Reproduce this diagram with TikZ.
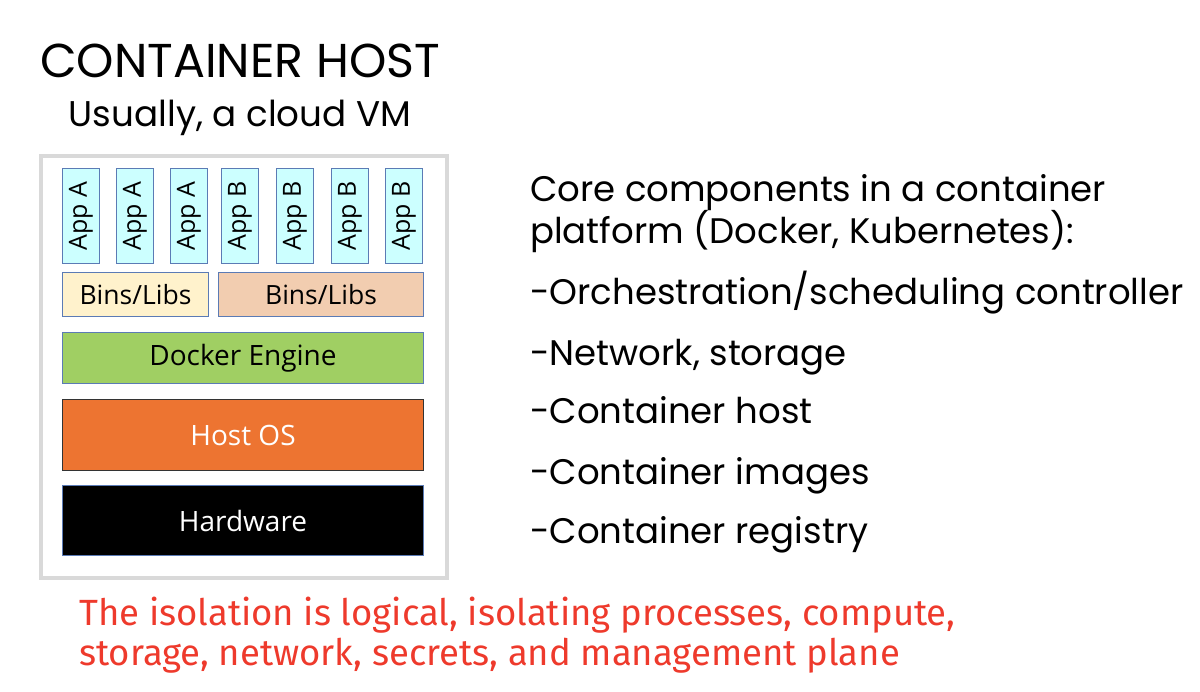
\documentclass[tikz,border=0pt]{standalone}
\usepackage{fontspec}
\setmainfont{Poppins}
\newfontfamily\boxfont{Open Sans}
\newfontfamily\notefont{Fira Sans}
\usepackage{xcolor}
\definecolor{appcyan}{HTML}{CCFFFF}
\definecolor{libyellow}{HTML}{FFF2CC}
\definecolor{libpeach}{HTML}{F2CDB0}
\definecolor{enginegreen}{HTML}{A0CF63}
\definecolor{hostorange}{HTML}{ED7431}
\definecolor{edgeblue}{HTML}{5B7BB5}
\definecolor{hostgray}{HTML}{D9D9D9}
\definecolor{notered}{HTML}{EE3A2C}

\begin{document}
\begin{tikzpicture}[x=1pt, y=-1pt,
		layer/.style = {draw = edgeblue, line width = 1pt, anchor = north west, inner sep = 0pt, font = \boxfont\fontsize{28}{32}\selectfont},
		app/.style = {layer, fill = appcyan, minimum width = 37pt, minimum height = 95pt, font = \boxfont\fontsize{25}{29}\selectfont},
		bullet/.style = {anchor = base west, inner sep = 0pt, font = \fontsize{35.5}{42}\selectfont},
		note/.style = {anchor = base west, inner sep = 0pt, text = notered, font = \notefont\fontsize{36.5}{42}\selectfont}]
		\useasboundingbox (0,0) rectangle (1200,692);
		
		%titles
		\node (title) [inner sep = 0pt, anchor = base, font = \fontsize{47.5}{54}\selectfont] at (240,78) {CONTAINER HOST};
		\node (subtitle) [inner sep = 0pt, anchor = base, font = \fontsize{35.7}{42}\selectfont] at (240,127) {Usually, a cloud VM};
		
		%container host frame
		\node (host) [draw = hostgray, line width = 4pt, anchor = north west, minimum width = 406pt, minimum height = 422pt] at (39,154) {};
		
		%apps
		\foreach \x/\name/\n in {62/A/1, 116/A/2, 170/A/3, 221/B/1, 276/B/2, 331/B/3, 385/B/4}
			\node (app\name\n) [app] at (\x,168) {\rotatebox{90}{App \name}};
		
		%stack layers
		\node (libsA) [layer, fill = libyellow, minimum width = 146pt, minimum height = 44pt, font = \boxfont\fontsize{26.5}{30}\selectfont] at (62,272) {Bins/Libs};
		\node (libsB) [layer, fill = libpeach, minimum width = 205pt, minimum height = 44pt, font = \boxfont\fontsize{26.5}{30}\selectfont] at (218,272) {Bins/Libs};
		\node (engine) [layer, fill = enginegreen, minimum width = 361pt, minimum height = 51pt] at (62,332) {Docker Engine};
		\node (hostos) [layer, draw = black!80, fill = hostorange, text = white, minimum width = 361pt, minimum height = 71pt] at (62,399) {Host OS};
		\node (hardware) [layer, fill = black, text = white, minimum width = 361pt, minimum height = 70pt] at (62,485) {Hardware};
		
		%core components
		\node (core1) [bullet] at (530,202) {Core components in a container};
		\node (core2) [bullet] at (530,244) {platform (Docker, Kubernetes):};
		\node (orch) [bullet] at (530,305) {-Orchestration/scheduling controller};
		\node (net) [bullet] at (530,366) {-Network, storage};
		\node (chost) [bullet] at (530,424) {-Container host};
		\node (images) [bullet] at (530,485) {-Container images};
		\node (registry) [bullet] at (530,543) {-Container registry};
		
		%isolation note
		\node (note1) [note] at (79,625) {The isolation is logical, isolating processes, compute,};
		\node (note2) [note] at (79,665) {storage, network, secrets, and management plane};
	\end{tikzpicture}
\end{document}
